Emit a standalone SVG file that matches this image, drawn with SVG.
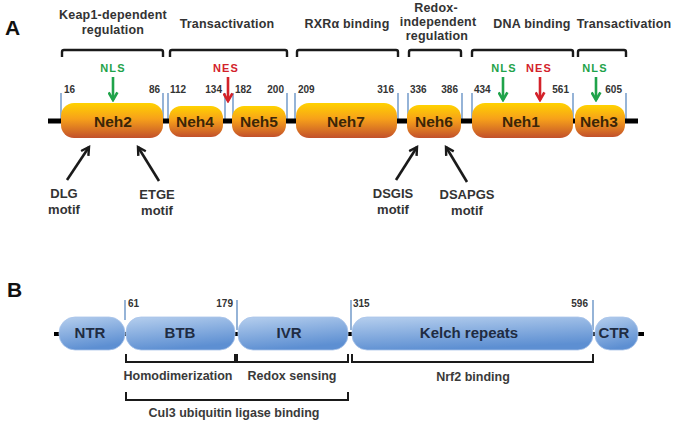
<svg xmlns="http://www.w3.org/2000/svg" width="677" height="422" viewBox="0 0 677 422">
<defs>
<linearGradient id="gOr" x1="0" y1="0" x2="0" y2="1">
<stop offset="0" stop-color="#ffd200"/>
<stop offset="0.45" stop-color="#f7a11a"/>
<stop offset="1" stop-color="#c2502b"/>
</linearGradient>
<linearGradient id="gBl" x1="0" y1="0" x2="0.3" y2="1">
<stop offset="0" stop-color="#b6cfee"/>
<stop offset="1" stop-color="#5d8fd2"/>
</linearGradient>
<marker id="mk" viewBox="0 0 10 10" refX="8" refY="5" markerWidth="11" markerHeight="11" markerUnits="userSpaceOnUse" orient="auto">
<path d="M1,1 L8,5 L1,9" fill="none" stroke="#1a1a1a" stroke-width="2.2"/>
</marker>
<marker id="mg" viewBox="0 0 10 10" refX="8" refY="5" markerWidth="11" markerHeight="11" markerUnits="userSpaceOnUse" orient="auto">
<path d="M1,1 L8,5 L1,9" fill="none" stroke="#1fa34a" stroke-width="2.4"/>
</marker>
<marker id="mr" viewBox="0 0 10 10" refX="8" refY="5" markerWidth="11" markerHeight="11" markerUnits="userSpaceOnUse" orient="auto">
<path d="M1,1 L8,5 L1,9" fill="none" stroke="#d3222a" stroke-width="2.4"/>
</marker>
</defs>
<style>
text{font-family:"Liberation Sans",Arial,sans-serif;font-weight:bold}
.pl{font-size:21px;fill:#111}
.hd{font-size:12.5px;fill:#333;text-anchor:middle;letter-spacing:0.2px}
.num{font-size:10px;fill:#333}
.dA{fill:url(#gOr)}
.dB{fill:url(#gBl);stroke:#a9c4ea;stroke-width:0.8}
.tA{font-size:15.5px;fill:#3a2608;text-anchor:middle}
.tB{font-size:15px;fill:#1f2c42;text-anchor:middle}
.tick{stroke:#4f81bd;stroke-width:1.2}
.br{fill:none;stroke:#1a1a1a;stroke-width:2.4;stroke-linejoin:round}
.brB{fill:none;stroke:#1a1a1a;stroke-width:2}
.mot{font-size:13px;fill:#333;text-anchor:middle}
.sig{font-size:11px;text-anchor:middle;letter-spacing:1.2px}
.lab{font-size:12.5px;fill:#3a3a3a;text-anchor:middle}
.bb{stroke:#000;stroke-width:5}
</style>

<!-- Panel A -->
<text class="pl" x="5" y="35">A</text>
<g id="headersA">
<text class="hd" x="113" y="19">Keap1-dependent</text>
<text class="hd" x="113" y="34">regulation</text>
<text class="hd" x="227" y="28">Transactivation</text>
<text class="hd" x="347" y="28">RXRα binding</text>
<text class="hd" x="436" y="12">Redox-</text>
<text class="hd" x="438" y="26">independent</text>
<text class="hd" x="437" y="40">regulation</text>
<text class="hd" x="532" y="28">DNA binding</text>
<text class="hd" x="624" y="28">Transactivation</text>
</g>
<g id="bracketsA">
<path class="br" d="M62,57 L62,52 Q62,50 64,50 L161,50 Q163,50 163,52 L163,57"/>
<path class="br" d="M170,57 L170,52 Q170,50 172,50 L285,50 Q287,50 287,52 L287,57"/>
<path class="br" d="M297,57 L297,52 Q297,50 299,50 L396,50 Q398,50 398,52 L398,57"/>
<path class="br" d="M409,57 L409,52 Q409,50 411,50 L459,50 Q461,50 461,52 L461,57"/>
<path class="br" d="M472,57 L472,52 Q472,50 474,50 L571,50 Q573,50 573,52 L573,57"/>
<path class="br" d="M578,57 L578,52 Q578,50 580,50 L624,50 Q626,50 626,52 L626,57"/>
</g>
<g id="ticksA">
<line class="tick" x1="61" y1="93" x2="61" y2="120"/>
<line class="tick" x1="163" y1="93" x2="163" y2="120"/>
<line class="tick" x1="168" y1="93" x2="168" y2="120"/>
<line class="tick" x1="225" y1="93" x2="225" y2="120"/>
<line class="tick" x1="233" y1="93" x2="233" y2="120"/>
<line class="tick" x1="287" y1="93" x2="287" y2="120"/>
<line class="tick" x1="295" y1="93" x2="295" y2="120"/>
<line class="tick" x1="398" y1="93" x2="398" y2="120"/>
<line class="tick" x1="408" y1="93" x2="408" y2="120"/>
<line class="tick" x1="462" y1="93" x2="462" y2="120"/>
<line class="tick" x1="472" y1="93" x2="472" y2="120"/>
<line class="tick" x1="573" y1="93" x2="573" y2="120"/>
<line class="tick" x1="626" y1="93" x2="626" y2="120"/>
</g>
<g id="numsA">
<text class="num" x="64" y="93">16</text>
<text class="num" x="160" y="93" text-anchor="end">86</text>
<text class="num" x="170" y="93">112</text>
<text class="num" x="222" y="93" text-anchor="end">134</text>
<text class="num" x="235" y="93">182</text>
<text class="num" x="284" y="93" text-anchor="end">200</text>
<text class="num" x="298" y="93">209</text>
<text class="num" x="394" y="93" text-anchor="end">316</text>
<text class="num" x="410" y="93">336</text>
<text class="num" x="458" y="93" text-anchor="end">386</text>
<text class="num" x="474" y="93">434</text>
<text class="num" x="569" y="93" text-anchor="end">561</text>
<text class="num" x="622" y="93" text-anchor="end">605</text>
</g>
<line id="backboneA" class="bb" x1="48" y1="121" x2="638" y2="121"/>
<g id="Neh2"><rect class="dA" x="61" y="103" width="102" height="35" rx="13"/><text class="tA" x="113" y="127">Neh2</text></g>
<g id="Neh4"><rect class="dA" x="169" y="106" width="54" height="31" rx="12"/><text class="tA" x="195" y="127">Neh4</text></g>
<g id="Neh5"><rect class="dA" x="232" y="106" width="54" height="31" rx="12"/><text class="tA" x="259" y="127">Neh5</text></g>
<g id="Neh7"><rect class="dA" x="296" y="103" width="101" height="35" rx="13"/><text class="tA" x="346" y="127">Neh7</text></g>
<g id="Neh6"><rect class="dA" x="407" y="105" width="54" height="33" rx="12"/><text class="tA" x="434" y="127">Neh6</text></g>
<g id="Neh1"><rect class="dA" x="472" y="103" width="101" height="35" rx="13"/><text class="tA" x="521" y="127">Neh1</text></g>
<g id="Neh3"><rect class="dA" x="575" y="105" width="50" height="32" rx="12"/><text class="tA" x="599" y="127">Neh3</text></g>

<g id="signals">
<text class="sig" x="113" y="72" fill="#1fa34a">NLS</text>
<text class="sig" x="226" y="72" fill="#d3222a">NES</text>
<text class="sig" x="504" y="72" fill="#1fa34a">NLS</text>
<text class="sig" x="539" y="72" fill="#d3222a">NES</text>
<text class="sig" x="595" y="72" fill="#1fa34a">NLS</text>
</g>
<g id="connectors">
<line x1="113" y1="77" x2="113" y2="100" stroke="#1fa34a" stroke-width="2.6" marker-end="url(#mg)"/>
<line x1="228" y1="77" x2="228" y2="101" stroke="#d3222a" stroke-width="2.6" marker-end="url(#mr)"/>
<line x1="503" y1="77" x2="503" y2="100" stroke="#1fa34a" stroke-width="2.6" marker-end="url(#mg)"/>
<line x1="540" y1="77" x2="540" y2="100" stroke="#d3222a" stroke-width="2.6" marker-end="url(#mr)"/>
<line x1="596" y1="77" x2="596" y2="100" stroke="#1fa34a" stroke-width="2.6" marker-end="url(#mg)"/>
<line x1="67" y1="180" x2="89" y2="147" stroke="#1a1a1a" stroke-width="2.6" marker-end="url(#mk)"/>
<line x1="159" y1="181" x2="138" y2="147" stroke="#1a1a1a" stroke-width="2.6" marker-end="url(#mk)"/>
<line x1="396" y1="180" x2="417" y2="147" stroke="#1a1a1a" stroke-width="2.6" marker-end="url(#mk)"/>
<line x1="467" y1="182" x2="446" y2="147" stroke="#1a1a1a" stroke-width="2.6" marker-end="url(#mk)"/>
</g>
<g id="motifs">
<text class="mot" x="64" y="198">DLG</text>
<text class="mot" x="64" y="214">motif</text>
<text class="mot" x="157" y="199">ETGE</text>
<text class="mot" x="157" y="215">motif</text>
<text class="mot" x="393" y="198">DSGIS</text>
<text class="mot" x="393" y="214">motif</text>
<text class="mot" x="467" y="199">DSAPGS</text>
<text class="mot" x="467" y="215">motif</text>
</g>

<!-- Panel B -->
<text class="pl" x="7" y="297">B</text>
<line id="backboneB" stroke="#000" stroke-width="4" x1="54" y1="334" x2="644" y2="334"/>
<g id="ticksB">
<line class="tick" x1="125" y1="300" x2="125" y2="320"/>
<line class="tick" x1="237" y1="300" x2="237" y2="330"/>
<line class="tick" x1="351" y1="300" x2="351" y2="330"/>
<line class="tick" x1="593" y1="300" x2="593" y2="330"/>
</g>
<g id="numsB">
<text class="num" x="128" y="307">61</text>
<text class="num" x="233" y="307" text-anchor="end">179</text>
<text class="num" x="353" y="307">315</text>
<text class="num" x="588" y="307" text-anchor="end">596</text>
</g>
<g id="NTR"><rect class="dB" x="59" y="317" width="66" height="33" rx="16"/><text class="tB" x="90" y="338">NTR</text></g>
<g id="BTB"><rect class="dB" x="126" y="317" width="109" height="33" rx="15"/><text class="tB" x="180" y="338">BTB</text></g>
<g id="IVR"><rect class="dB" x="238" y="317" width="110" height="33" rx="15"/><text class="tB" x="289" y="338">IVR</text></g>
<g id="Kelch"><rect class="dB" x="352" y="317" width="241" height="33" rx="15"/><text class="tB" x="469" y="338">Kelch repeats</text></g>
<g id="CTR"><rect class="dB" x="595" y="317" width="43" height="33" rx="15"/><text class="tB" x="614" y="338">CTR</text></g>
<g id="bracketsB">
<path class="brB" d="M126,354 L126,362 L235,362 L235,354"/>
<path class="brB" d="M237,354 L237,362 L348,362 L348,354"/>
<path class="brB" d="M352,354 L352,362 L593,362 L593,354"/>
<path class="brB" d="M126,392 L126,400 L348,400 L348,392"/>
</g>
<g id="labelsB">
<text class="lab" x="178" y="380">Homodimerization</text>
<text class="lab" x="292" y="380">Redox sensing</text>
<text class="lab" x="473" y="381">Nrf2 binding</text>
<text class="lab" x="234" y="417">Cul3 ubiquitin ligase binding</text>
</g>
</svg>
